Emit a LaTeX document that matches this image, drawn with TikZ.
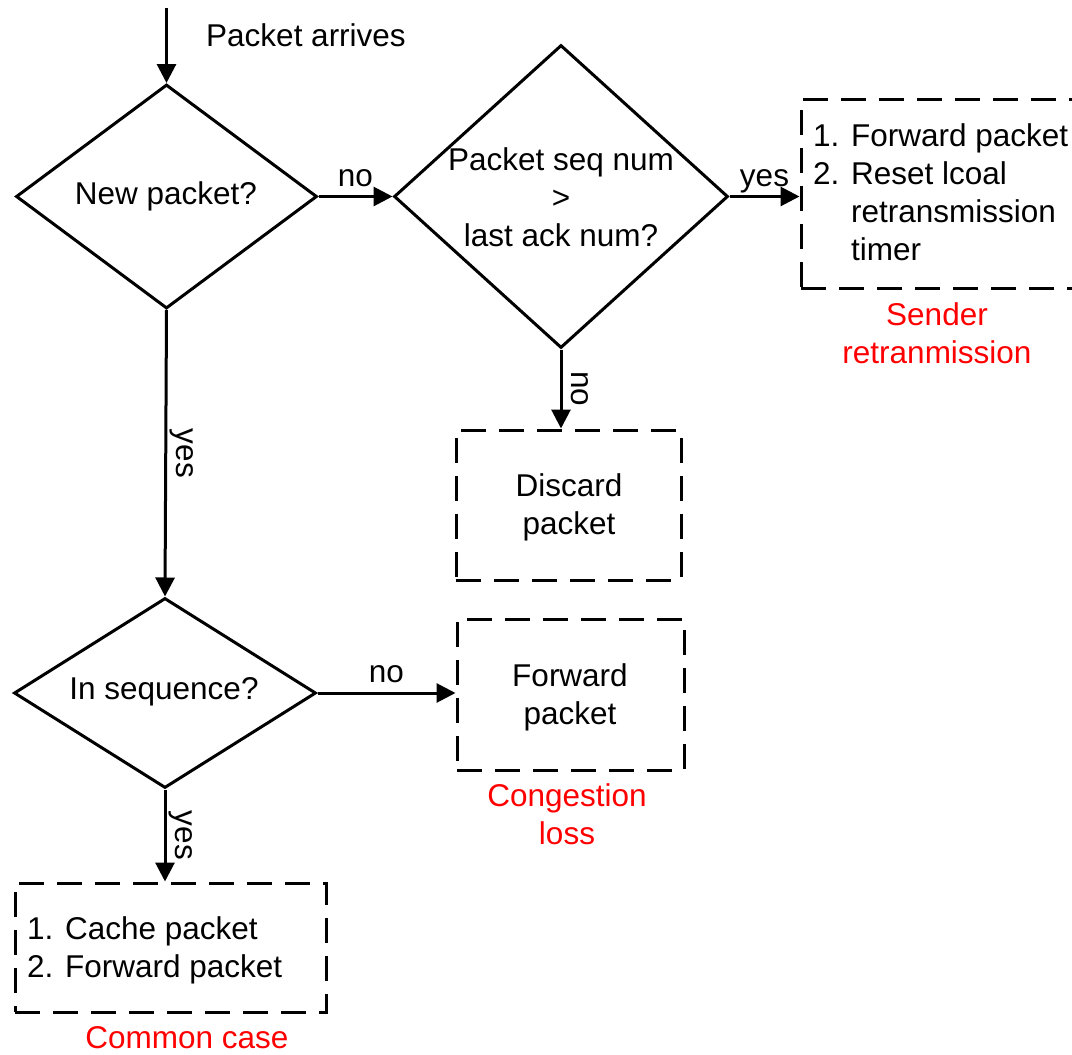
\documentclass[tikz,border=0pt]{standalone}
\usepackage{fontspec}
\setmainfont{Liberation Sans}
\usetikzlibrary{shapes.geometric,arrows.meta}
\begin{document}
\begin{tikzpicture}[x=1pt,y=1pt,
  every node/.style={font=\fontsize{31.5}{38}\selectfont},
  dec/.style={diamond,draw,line width=3pt,inner sep=0pt,aspect=1},
  dbox/.style={rectangle,draw,line width=3pt,inner sep=0pt,dash pattern=on 25pt off 13pt},
  txt/.style={inner sep=0pt,align=center},
  ltxt/.style={inner sep=0pt,align=left,anchor=west},
  note/.style={inner sep=0pt,align=center,text=red},
  flow/.style={line width=3pt,-{Triangle[length=19pt,width=19pt]}},
  lab/.style={inner sep=9pt,text depth=0pt,anchor=south},
  vlab/.style={inner sep=9pt,text depth=0pt,anchor=south,rotate=-90}
]
\useasboundingbox (0,0) rectangle (1072,-1055);
\clip (0,0) rectangle (1072,-1055);

% decisions
\node[dec,minimum width=301pt,minimum height=224pt] (d1) at (166.5,-196.5) {};
\node[txt] (d1t) at (166,-196) {New packet?};
\node[dec,minimum width=334pt,minimum height=303pt] (d2) at (561,-196.5) {};
\node[txt] (d2t) at (561,-197.5) {Packet seq num\\>\\last ack num?};
\node[dec,minimum width=302pt,minimum height=190pt] (d3) at (165,-693) {};
\node[txt] (d3t) at (164,-692) {In sequence?};

% boxes
\node[dbox,minimum width=299pt,minimum height=189pt] (b1) at (950.5,-193.5) {};
\node[ltxt] (b1t) at (813,-192.5) {1. Forward packet\\2. Reset lcoal\\\phantom{2. }retransmission\\\phantom{2. }timer};
\node[dbox,minimum width=225pt,minimum height=150pt] (disc) at (568.5,-505) {};
\node[txt] (disct) at (569,-507) {Discard\\packet};
\node[dbox,minimum width=227pt,minimum height=151pt] (fwd) at (570.5,-694.5) {};
\node[txt] (fwdt) at (570,-697) {Forward\\packet};
\node[dbox,minimum width=311pt,minimum height=129pt] (com) at (170.5,-947.5) {};
\node[ltxt] (comt) at (27,-950) {1. Cache packet\\2. Forward packet};

% notes
\node[note] (n1) at (937,-333.5) {Sender\\retranmission};
\node[note] (n2) at (567,-814.5) {Congestion\\loss};
\node[note] (n3) at (187,-1038) {Common case};

% start
\coordinate (start) at (166.5,-8);
\node[txt] (arr) at (306,-35) {Packet arrives};

% connectors
\draw[flow] (start) -- (d1.north);
\draw[flow] (d1.east) -- node[lab]{no} (d2.west);
\draw[flow] (d2.east) -- node[lab]{yes} (d2.east -| b1.west);
\draw[flow] (d2.south) -- node[vlab]{no} (d2.south |- disc.north);
\draw[flow] (d1.south) -- node[vlab]{yes} (d3.north);
\draw[flow] (d3.east) -- node[lab]{no} (d3.east -| fwd.west);
\draw[flow] (d3.south) -- node[vlab]{yes} (d3.south |- com.north);
\end{tikzpicture}
\end{document}
